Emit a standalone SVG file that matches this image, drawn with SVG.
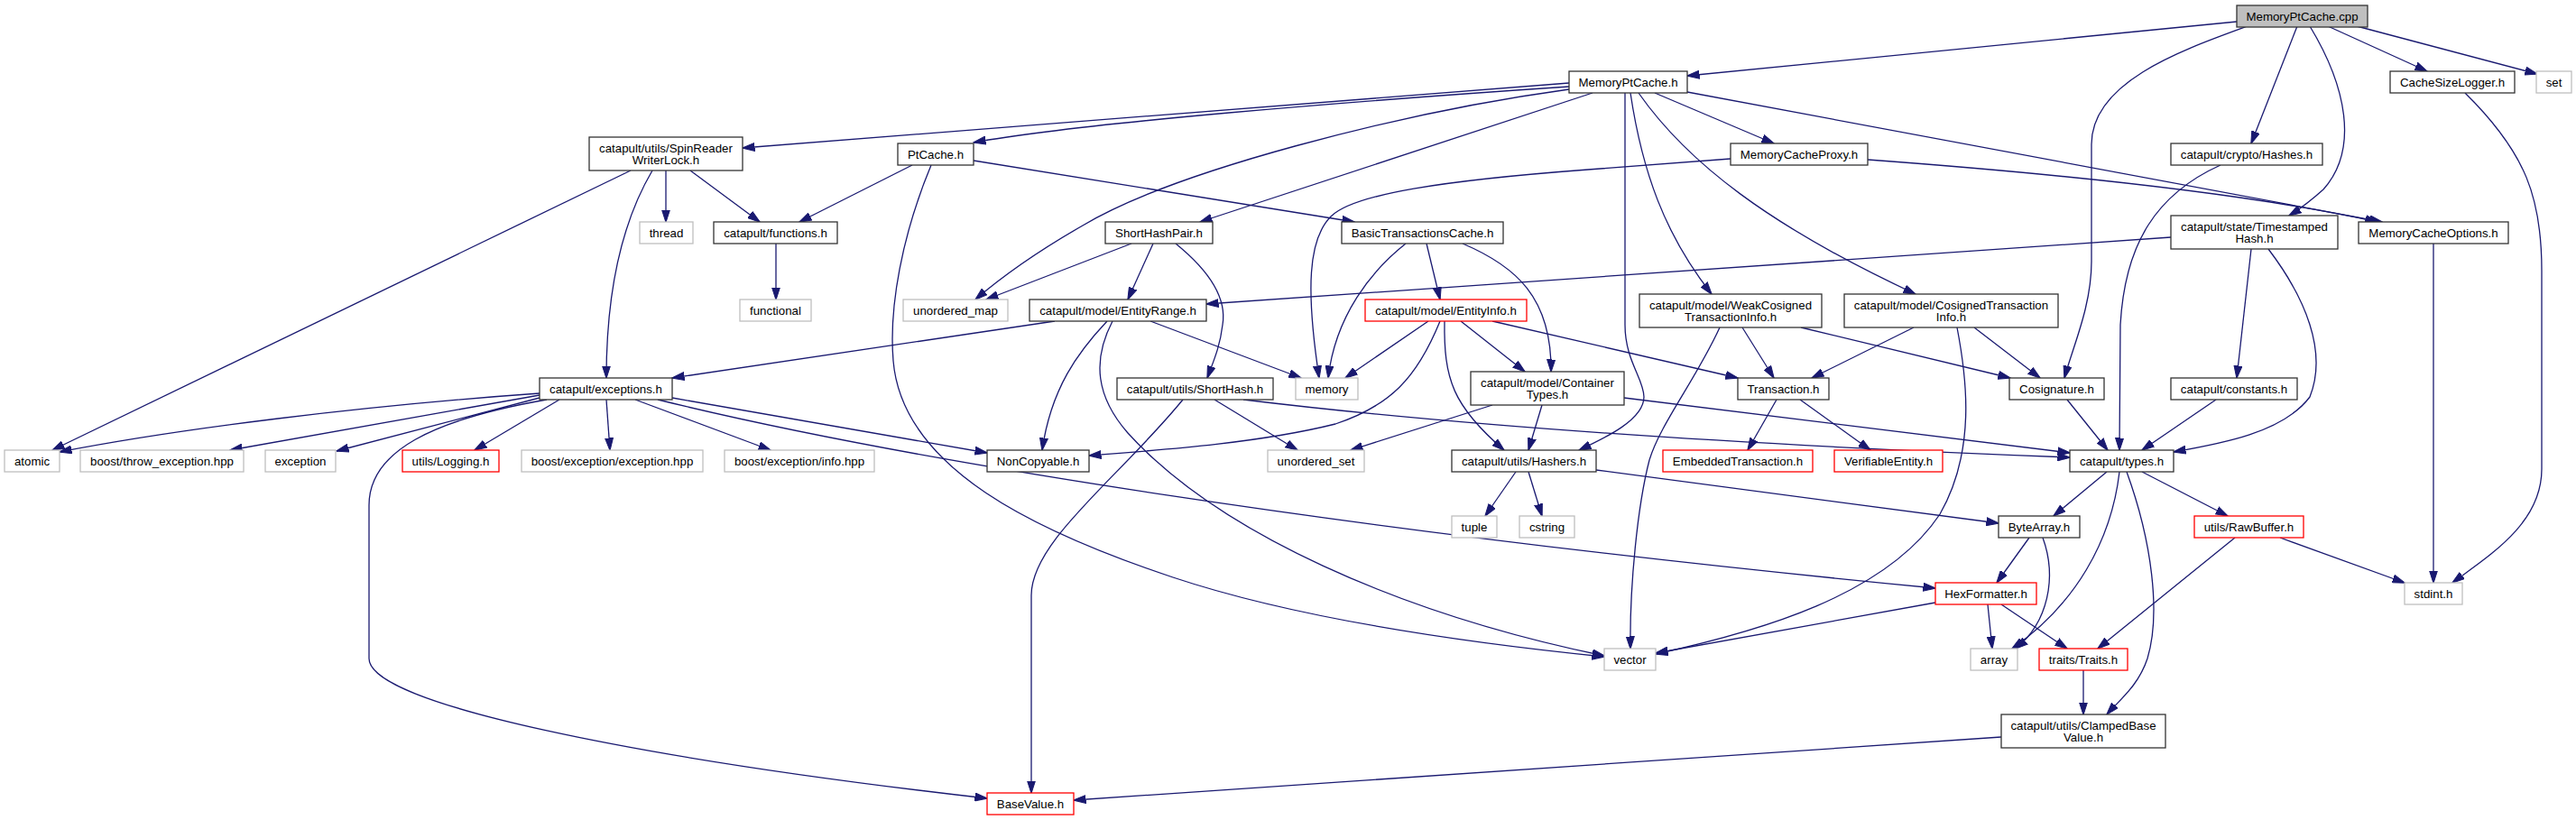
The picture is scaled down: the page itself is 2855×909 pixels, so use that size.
<svg xmlns="http://www.w3.org/2000/svg" width="2855" height="909" viewBox="0 0 2855 909">
<defs>
<style>
.node rect{fill:#fff;stroke:#333;stroke-width:1.3}
.g rect{stroke:#bfbfbf}
.r rect{stroke:#ff0000}
.root rect{fill:#bfbfbf;stroke:#333}
text{font-family:"Liberation Sans",Arial,Helvetica,sans-serif;font-size:13.3px;text-anchor:middle;fill:#000}
#edges path{fill:none;stroke:#191970;stroke-width:1.3;marker-end:url(#a)}
</style>
<marker id="a" viewBox="0 0 14 10" refX="13.5" refY="5" markerWidth="14" markerHeight="10" markerUnits="userSpaceOnUse" orient="auto">
<path d="M0,0.5 L14,5 L0,9.5 z" fill="#191970" stroke="#191970" stroke-width="1"/>
</marker>
</defs>
<rect width="2855" height="909" fill="#fff"/>
<g id="edges">
<path d="M2479,24 L1870,84"/>
<path d="M2491,29 C2420,55 2318,90 2318,160 L2318,290 C2318,340 2297,385 2288,419"/>
<path d="M2546,29 L2495,159"/>
<path d="M2560,29 C2600,95 2615,165 2575,210 Q2555,228 2537,239"/>
<path d="M2580,29 L2690,79"/>
<path d="M2612,29 L2812,82"/>
<path d="M1739,92 L823,164"/>
<path d="M1739,96 C1500,112 1200,136 1079,158"/>
<path d="M1739,99 C1550,125 1300,190 1200,250 Q1130,290 1081,332"/>
<path d="M1765,103 L1330,246"/>
<path d="M1834,103 L1966,159"/>
<path d="M1870,102 L2640,246"/>
<path d="M1807,103 C1820,190 1845,260 1897,326"/>
<path d="M1816,103 C1870,180 1960,250 2123,326"/>
<path d="M1801,103 L1801,360 C1801,400 1822,420 1822,440 C1822,465 1780,485 1750,499"/>
<path d="M699,189 L58,499"/>
<path d="M723,189 C690,245 672,320 672,419"/>
<path d="M738,189 L738,246"/>
<path d="M765,189 L842,246"/>
<path d="M1011,183 L886,246"/>
<path d="M1032,183 C1000,260 985,340 990,400 C1000,520 1150,590 1300,640 C1450,690 1650,715 1778,728"/>
<path d="M1079,178 L1501,246"/>
<path d="M860,270 L860,332"/>
<path d="M1918,176 L1760,188 C1600,200 1500,215 1475,240 C1450,265 1447,320 1462,419"/>
<path d="M2070,177 Q2450,205 2635,246"/>
<path d="M1254,270 L1093,332"/>
<path d="M1278,270 L1250,332"/>
<path d="M1303,270 C1340,300 1360,330 1355,360 C1352,385 1345,400 1338,419"/>
<path d="M1558,270 C1520,300 1480,350 1472,419"/>
<path d="M1581,270 L1596,332"/>
<path d="M1621,270 C1680,295 1720,330 1719,412"/>
<path d="M2461,183 C2390,215 2355,270 2350,360 L2349,499"/>
<path d="M2406,263 L1337,337"/>
<path d="M2495,276 L2479,419"/>
<path d="M2514,276 C2555,330 2580,390 2560,440 C2530,480 2460,492 2409,501"/>
<path d="M2697,270 L2697,646"/>
<path d="M2732,103 C2800,170 2817,220 2817,300 L2817,520 C2817,580 2760,615 2718,646"/>
<path d="M1169,356 L745,419"/>
<path d="M1227,356 C1195,390 1165,430 1155,499"/>
<path d="M1275,356 L1442,419"/>
<path d="M1233,356 C1210,400 1215,440 1250,480 C1350,590 1550,680 1778,727"/>
<path d="M1583,356 L1491,419"/>
<path d="M1596,356 C1570,420 1540,450 1480,470 C1400,490 1300,498 1207,505"/>
<path d="M1619,356 L1690,412"/>
<path d="M1601,356 C1600,420 1610,450 1667,499"/>
<path d="M1654,356 L1926,419"/>
<path d="M1931,363 L1966,419"/>
<path d="M1996,363 L2228,419"/>
<path d="M1906,363 C1880,420 1840,470 1828,510 C1815,560 1806,650 1807,719"/>
<path d="M2121,363 L2008,419"/>
<path d="M2188,363 L2261,419"/>
<path d="M2169,363 C2180,420 2190,500 2150,570 C2090,660 1950,700 1835,725"/>
<path d="M598,436 C400,450 200,475 66,501"/>
<path d="M598,438 L255,499"/>
<path d="M598,441 L373,500"/>
<path d="M620,443 L526,499"/>
<path d="M672,443 L676,499"/>
<path d="M704,443 L854,499"/>
<path d="M745,441 L1094,502"/>
<path d="M729,443 C1000,510 1500,590 2145,652"/>
<path d="M606,443 C480,465 409,500 409,560 L409,730 C409,780 700,840 1094,885"/>
<path d="M1346,443 L1438,499"/>
<path d="M1378,443 C1600,470 1900,492 2294,507"/>
<path d="M1311,443 C1240,530 1143,600 1143,660 L1143,879"/>
<path d="M1654,449 L1497,499"/>
<path d="M1709,449 L1694,499"/>
<path d="M1800,441 L2294,502"/>
<path d="M1969,443 L1937,499"/>
<path d="M1995,443 L2073,499"/>
<path d="M2291,443 L2336,499"/>
<path d="M2456,443 L2374,499"/>
<path d="M1680,523 L1646,572"/>
<path d="M1694,523 L1709,572"/>
<path d="M1769,521 L2215,580"/>
<path d="M2335,523 L2276,572"/>
<path d="M2374,523 L2469,572"/>
<path d="M2349,523 C2340,600 2300,670 2230,719"/>
<path d="M2357,523 C2385,600 2395,680 2380,730 C2370,760 2350,775 2335,792"/>
<path d="M2249,596 L2213,646"/>
<path d="M2264,596 C2280,640 2270,690 2234,719"/>
<path d="M2145,668 L1835,724"/>
<path d="M2203,670 L2208,719"/>
<path d="M2218,670 L2291,719"/>
<path d="M2477,596 L2325,719"/>
<path d="M2527,596 L2665,646"/>
<path d="M2309,743 L2309,792"/>
<path d="M2218,817 L1190,887"/>
</g>
<g id="n_cpp" class="node root"><rect x="2479" y="6" width="145" height="24"/><text x="2551.5" y="22.8">MemoryPtCache.cpp</text></g>
<g id="n_mptc" class="node"><rect x="1739" y="79" width="131" height="24"/><text x="1804.5" y="95.8">MemoryPtCache.h</text></g>
<g id="n_csl" class="node"><rect x="2649" y="79" width="138" height="24"/><text x="2718" y="95.8">CacheSizeLogger.h</text></g>
<g id="n_set" class="node g"><rect x="2811" y="79" width="39" height="24"/><text x="2830.5" y="95.8">set</text></g>
<g id="n_spin" class="node"><rect x="653" y="152" width="170" height="37"/><text x="738" y="168.8">catapult/utils/SpinReader</text><text x="738" y="181.6">WriterLock.h</text></g>
<g id="n_ptc" class="node"><rect x="995" y="159" width="84" height="24"/><text x="1037" y="175.8">PtCache.h</text></g>
<g id="n_mcp" class="node"><rect x="1918" y="159" width="152" height="24"/><text x="1994" y="175.8">MemoryCacheProxy.h</text></g>
<g id="n_hashes" class="node"><rect x="2406" y="159" width="168" height="24"/><text x="2490" y="175.8">catapult/crypto/Hashes.h</text></g>
<g id="n_thread" class="node g"><rect x="709" y="246" width="59" height="24"/><text x="738.5" y="262.8">thread</text></g>
<g id="n_funcs" class="node"><rect x="791" y="246" width="137" height="24"/><text x="859.5" y="262.8">catapult/functions.h</text></g>
<g id="n_shp" class="node"><rect x="1225" y="246" width="119" height="24"/><text x="1284.5" y="262.8">ShortHashPair.h</text></g>
<g id="n_btc" class="node"><rect x="1487" y="246" width="179" height="24"/><text x="1576.5" y="262.8">BasicTransactionsCache.h</text></g>
<g id="n_tsh" class="node"><rect x="2406" y="239" width="185" height="37"/><text x="2498.5" y="255.8">catapult/state/Timestamped</text><text x="2498.5" y="268.6">Hash.h</text></g>
<g id="n_mco" class="node"><rect x="2614" y="246" width="166" height="24"/><text x="2697" y="262.8">MemoryCacheOptions.h</text></g>
<g id="n_functional" class="node g"><rect x="820" y="332" width="79" height="24"/><text x="859.5" y="348.8">functional</text></g>
<g id="n_umap" class="node g"><rect x="1001" y="332" width="116" height="24"/><text x="1059" y="348.8">unordered_map</text></g>
<g id="n_er" class="node"><rect x="1141" y="332" width="196" height="24"/><text x="1239" y="348.8">catapult/model/EntityRange.h</text></g>
<g id="n_ei" class="node r"><rect x="1513" y="332" width="179" height="24"/><text x="1602.5" y="348.8">catapult/model/EntityInfo.h</text></g>
<g id="n_wcti" class="node"><rect x="1817" y="326" width="202" height="37"/><text x="1918" y="342.8">catapult/model/WeakCosigned</text><text x="1918" y="355.6">TransactionInfo.h</text></g>
<g id="n_cti" class="node"><rect x="2044" y="326" width="237" height="37"/><text x="2162.5" y="342.8">catapult/model/CosignedTransaction</text><text x="2162.5" y="355.6">Info.h</text></g>
<g id="n_exc" class="node"><rect x="598" y="419" width="147" height="24"/><text x="671.5" y="435.8">catapult/exceptions.h</text></g>
<g id="n_sh" class="node"><rect x="1238" y="419" width="173" height="24"/><text x="1324.5" y="435.8">catapult/utils/ShortHash.h</text></g>
<g id="n_memory" class="node g"><rect x="1436" y="419" width="69" height="24"/><text x="1470.5" y="435.8">memory</text></g>
<g id="n_ct" class="node"><rect x="1630" y="412" width="170" height="37"/><text x="1715" y="428.8">catapult/model/Container</text><text x="1715" y="441.6">Types.h</text></g>
<g id="n_tr" class="node"><rect x="1926" y="419" width="101" height="24"/><text x="1976.5" y="435.8">Transaction.h</text></g>
<g id="n_cos" class="node"><rect x="2227" y="419" width="105" height="24"/><text x="2279.5" y="435.8">Cosignature.h</text></g>
<g id="n_const" class="node"><rect x="2406" y="419" width="140" height="24"/><text x="2476" y="435.8">catapult/constants.h</text></g>
<g id="n_atomic" class="node g"><rect x="5" y="499" width="61" height="24"/><text x="35.5" y="515.8">atomic</text></g>
<g id="n_bte" class="node g"><rect x="89" y="499" width="181" height="24"/><text x="179.5" y="515.8">boost/throw_exception.hpp</text></g>
<g id="n_exception" class="node g"><rect x="294" y="499" width="78" height="24"/><text x="333" y="515.8">exception</text></g>
<g id="n_logging" class="node r"><rect x="446" y="499" width="107" height="24"/><text x="499.5" y="515.8">utils/Logging.h</text></g>
<g id="n_bee" class="node g"><rect x="578" y="499" width="201" height="24"/><text x="678.5" y="515.8">boost/exception/exception.hpp</text></g>
<g id="n_bei" class="node g"><rect x="803" y="499" width="166" height="24"/><text x="886" y="515.8">boost/exception/info.hpp</text></g>
<g id="n_nc" class="node"><rect x="1094" y="499" width="113" height="24"/><text x="1150.5" y="515.8">NonCopyable.h</text></g>
<g id="n_uset" class="node g"><rect x="1405" y="499" width="107" height="24"/><text x="1458.5" y="515.8">unordered_set</text></g>
<g id="n_hashers" class="node"><rect x="1609" y="499" width="160" height="24"/><text x="1689" y="515.8">catapult/utils/Hashers.h</text></g>
<g id="n_emb" class="node r"><rect x="1843" y="499" width="166" height="24"/><text x="1926" y="515.8">EmbeddedTransaction.h</text></g>
<g id="n_ver" class="node r"><rect x="2033" y="499" width="120" height="24"/><text x="2093" y="515.8">VerifiableEntity.h</text></g>
<g id="n_types" class="node"><rect x="2294" y="499" width="115" height="24"/><text x="2351.5" y="515.8">catapult/types.h</text></g>
<g id="n_tuple" class="node g"><rect x="1609" y="572" width="50" height="24"/><text x="1634" y="588.8">tuple</text></g>
<g id="n_cstring" class="node g"><rect x="1684" y="572" width="61" height="24"/><text x="1714.5" y="588.8">cstring</text></g>
<g id="n_ba" class="node"><rect x="2215" y="572" width="90" height="24"/><text x="2260" y="588.8">ByteArray.h</text></g>
<g id="n_rb" class="node r"><rect x="2432" y="572" width="121" height="24"/><text x="2492.5" y="588.8">utils/RawBuffer.h</text></g>
<g id="n_hex" class="node r"><rect x="2145" y="646" width="112" height="24"/><text x="2201" y="662.8">HexFormatter.h</text></g>
<g id="n_stdint" class="node g"><rect x="2665" y="646" width="64" height="24"/><text x="2697" y="662.8">stdint.h</text></g>
<g id="n_vector" class="node g"><rect x="1778" y="719" width="57" height="24"/><text x="1806.5" y="735.8">vector</text></g>
<g id="n_array" class="node g"><rect x="2184" y="719" width="52" height="24"/><text x="2210" y="735.8">array</text></g>
<g id="n_traits" class="node r"><rect x="2260" y="719" width="98" height="24"/><text x="2309" y="735.8">traits/Traits.h</text></g>
<g id="n_cbv" class="node"><rect x="2218" y="792" width="182" height="37"/><text x="2309" y="808.8">catapult/utils/ClampedBase</text><text x="2309" y="821.6">Value.h</text></g>
<g id="n_bv" class="node r"><rect x="1094" y="879" width="96" height="24"/><text x="1142" y="895.8">BaseValue.h</text></g>
</svg>
